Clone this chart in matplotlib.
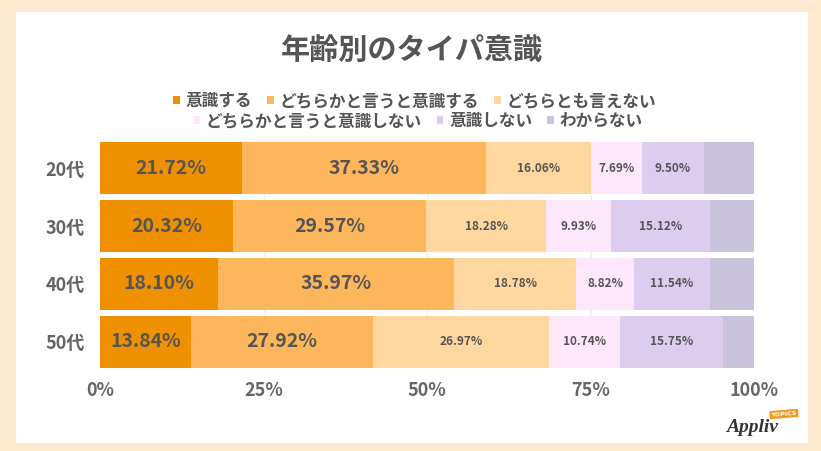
import matplotlib.pyplot as plt
import numpy as np
from matplotlib.patches import Rectangle, Patch

plt.rcParams['font.family'] = ['Noto Sans CJK JP', 'DejaVu Sans']

ages = ['20代', '30代', '40代', '50代']
categories = ['意識する', 'どちらかと言うと意識する', 'どちらとも言えない',
              'どちらかと言うと意識しない', '意識しない', 'わからない']
# shares in %, one list per category (age order as above)
strong = [21.72, 20.32, 18.10, 13.84]
rather = [37.33, 29.57, 35.97, 27.92]
neutral = [16.06, 18.28, 18.78, 26.97]
rather_not = [7.69, 9.93, 8.82, 10.74]
not_at_all = [9.50, 15.12, 11.54, 15.75]
unknown = [7.70, 6.78, 6.79, 4.78]
series = [strong, rather, neutral, rather_not, not_at_all, unknown]
xticks = [0, 25, 50, 75, 100]

colors = ['#EF9000', '#FDB65B', '#FED7A0', '#FDE7FB', '#DCCCEE', '#C9C3DC']
text_col = '#555555'

fig = plt.figure(figsize=(8.21, 4.51), dpi=100)
fig.patch.set_facecolor('#FCE9CF')
fig.patches.append(Rectangle((16 / 821, 8 / 451), (808 - 16) / 821, (439 - 8) / 451,
                             transform=fig.transFigure, facecolor='white',
                             edgecolor='none', zorder=-1))

ax = fig.add_axes([100 / 821, (451 - 368) / 451, 654 / 821, 226 / 451])
ax.set_facecolor('none')
ax.set_zorder(1)

y = np.arange(len(ages))
left = np.zeros(len(ages))
bars = []
for i, vals in enumerate(series):
    b = ax.barh(y, vals, left=left, height=0.9, color=colors[i], zorder=2)
    bars.append(b)
    if i < 5:
        for yy, l, v in zip(y, left, vals):
            big = i < 2
            ax.text(l + v / 2, yy, f'{v:.2f}%', ha='center', va='center',
                    fontsize=14 if big else 8.5, fontweight='bold',
                    color=text_col, zorder=3)
    left = left + np.array(vals)

ax.set_xlim(0, 100)
ax.set_ylim(3.45, -0.45)
ax.set_xticks(xticks)
ax.set_xticklabels([f'{t}%' for t in xticks])
ax.set_yticks(y)
ax.set_yticklabels(ages)
ax.tick_params(length=0, labelsize=13, labelcolor='#666666')
ax.tick_params(axis='x', pad=9)
ax.tick_params(axis='y', pad=11)
for lab in ax.get_xticklabels() + ax.get_yticklabels():
    lab.set_fontweight('bold')
for s in ax.spines.values():
    s.set_visible(False)
for t in xticks[1:]:
    ax.axvline(t, color='#EBEBEB', lw=0.8, zorder=1)

fig.text(412 / 821, 1 - 50 / 451, '年齢別のタイパ意識', ha='center', va='center',
         fontsize=21, fontweight='bold', color='#555555')

handles = [Patch(facecolor=c, edgecolor='none') for c in colors]
leg_kw = dict(ncol=3, frameon=False, handlelength=0.4, handleheight=0.4,
              handletextpad=0.35, columnspacing=0.9, borderpad=0,
              prop={'size': 12, 'weight': 'bold'}, labelcolor=text_col)
fig.legend(handles[:3], categories[:3], loc='center',
           bbox_to_anchor=(415 / 821, 1 - 101 / 451), **leg_kw)
fig.legend(handles[3:], categories[3:], loc='center',
           bbox_to_anchor=(418 / 821, 1 - 121 / 451), **leg_kw)

# logo
fig.text(752 / 821, 1 - 427 / 451, 'Appliv', ha='center', va='center',
         fontsize=14, fontstyle='italic', fontweight='bold',
         family='Liberation Serif', color='#333333')
fig.text(784 / 821, 1 - 414 / 451, 'TOPICS', ha='center', va='center',
         fontsize=4.5, fontweight='bold', color='white', rotation=5,
         family='DejaVu Sans',
         bbox=dict(boxstyle='square,pad=0.25', facecolor='#F39A1E', edgecolor='none'))

fig.savefig('out.png', dpi=100, facecolor=fig.get_facecolor())
